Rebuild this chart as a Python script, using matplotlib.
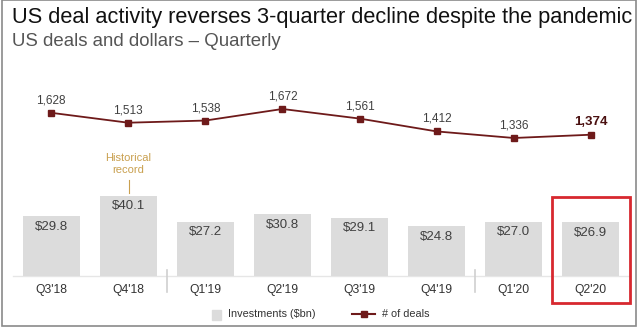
import matplotlib.pyplot as plt
from matplotlib.patches import Rectangle
from matplotlib.lines import Line2D

plt.rcParams['font.family'] = ['Liberation Sans', 'DejaVu Sans']

# data
quarters = ["Q3'18", "Q4'18", "Q1'19", "Q2'19", "Q3'19", "Q4'19", "Q1'20", "Q2'20"]
investments = [29.8, 40.1, 27.2, 30.8, 29.1, 24.8, 27.0, 26.9]
deals = [1628, 1513, 1538, 1672, 1561, 1412, 1336, 1374]

bar_color = '#dcdcdc'
line_color = '#6e1a1a'
W, H = 640, 328

fig = plt.figure(figsize=(6.4, 3.28), dpi=100)

# axes in pixel coords: left 12.5, right 629.5, baseline y=276, top y=90
ax = fig.add_axes([12.5 / W, (H - 276) / H, 617 / W, 186 / H])
x = range(len(quarters))
ax.bar(x, investments, width=0.74, color=bar_color, zorder=2)
ax.set_xlim(-0.5, 7.5)
ax.set_ylim(0, 93)
ax.axis('off')
for i, v in enumerate(investments):
    ax.text(i, v - 2.2, f"${v:.1f}", ha='center', va='top', fontsize=9.5, color='#404040')

# line on its own scale
ax2 = ax.twinx()
ax2.set_ylim(-263, 1892)
ax2.axis('off')
ax2.plot(x, deals, color=line_color, lw=1.3, marker='s', ms=4.5, zorder=3)
for i, v in enumerate(deals):
    if i == len(deals) - 1:
        ax2.text(i, v + 75, f"{v:,}", ha='center', va='bottom', fontsize=9.5,
                 fontweight='bold', color='#4a1010')
    else:
        ax2.text(i, v + 75, f"{v:,}", ha='center', va='bottom', fontsize=8.5, color='#404040')

# baseline and year separators
ax.plot([-0.5, 7.5], [0, 0], color='#e6e6e6', lw=1, zorder=1, clip_on=False)
for sep in [1.5, 5.5]:
    ax.plot([sep, sep], [3, -8], color='#d0d0d0', lw=1.2, clip_on=False)

# category labels
for i, q in enumerate(quarters):
    fig.text((51 + 77.1 * i) / W, 1 - 290 / H, q, ha='center', va='center',
             fontsize=8.7, color='#333333')

# annotation
fig.text(128.5 / W, 1 - 164 / H, "Historical\nrecord", ha='center', va='center',
         fontsize=8, color='#c9a04f', linespacing=1.25)
fig.add_artist(Line2D([128.5 / W, 128.5 / W], [1 - 180 / H, 1 - 193 / H],
                      color='#c9a04f', lw=0.8))

# highlight box
fig.add_artist(Rectangle((552 / W, 1 - 303 / H), 78 / W, 106 / H, fill=False,
                         edgecolor='#d7282f', lw=2))

# titles
fig.text(12 / W, 1 - 17 / H, "US deal activity reverses 3-quarter decline despite the pandemic",
         ha='left', va='center', fontsize=15.7, color='#111111')
fig.text(12 / W, 1 - 42 / H, "US deals and dollars \u2013 Quarterly",
         ha='left', va='center', fontsize=13.4, color='#555555')

# legend
fig.add_artist(Rectangle((212 / W, 1 - 320 / H), 9 / W, 10 / H, color=bar_color))
fig.text(228 / W, 1 - 314 / H, "Investments ($bn)", ha='left', va='center',
         fontsize=7.8, color='#333333')
fig.add_artist(Line2D([352 / W, 375 / W], [1 - 314 / H, 1 - 314 / H],
                      color=line_color, lw=1.5))
fig.add_artist(Line2D([363.5 / W], [1 - 314 / H], marker='s', ms=5, color=line_color))
fig.text(382 / W, 1 - 314 / H, "# of deals", ha='left', va='center',
         fontsize=7.8, color='#333333')

# outer frame
fig.add_artist(Rectangle((2 / W, 2 / H), 634 / W, 326 / H, fill=False,
                         edgecolor='#8a8a8a', lw=1.2))

fig.savefig('out.png', dpi=100)
